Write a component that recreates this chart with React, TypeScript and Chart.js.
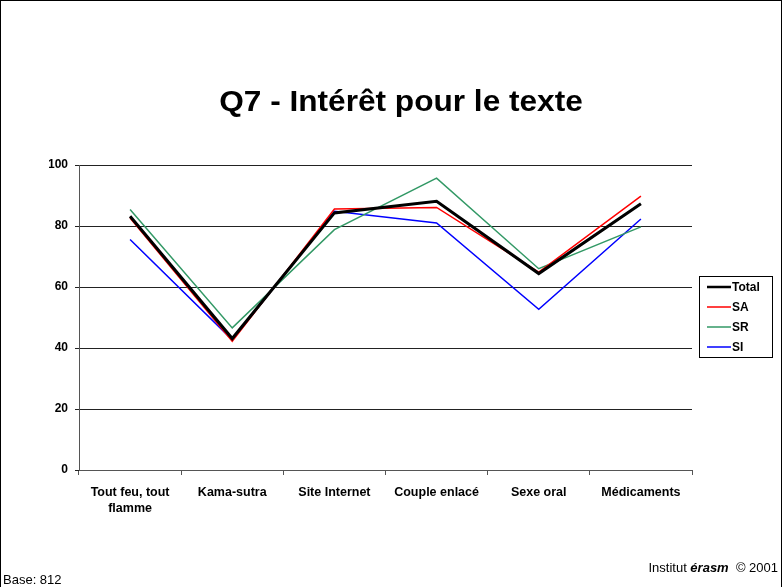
import React, { useEffect, useRef } from "react";
import { Chart, registerables } from "chart.js";

Chart.register(...registerables);

const categories: (string | string[])[] = [
  ["Tout feu, tout", "flamme"],
  "Kama-sutra",
  "Site Internet",
  "Couple enlacé",
  "Sexe oral",
  "Médicaments",
];
const totalValues = [83.2, 43.1, 84.3, 88.1, 64.4, 87.3];
const saValues = [82.6, 42.2, 85.6, 86.1, 64.9, 89.8];
const srValues = [85.4, 46.6, 78.8, 95.7, 66.0, 79.7];
const siValues = [75.6, 42.7, 84.8, 81.0, 52.7, 82.3];
const seriesNames = ["Total", "SA", "SR", "SI"];
const seriesColors = ["#000000", "#ff0000", "#339966", "#0000ff"];
const seriesWidths = [3, 1.5, 1.5, 1.5];
const yMin = 0;
const yMax = 100;
const yStep = 20;
const titleText = "Q7 - Intérêt pour le texte";
const baseText = "Base: 812";
const creditParts = ["Institut ", "érasm", "  © 2001"];

const FONT = "'Liberation Sans', Arial, Helvetica, sans-serif";

const extrasPlugin = {
  id: "extras",
  beforeDraw(chart: any) {
    const ctx = chart.ctx;
    ctx.save();
    ctx.fillStyle = "#ffffff";
    ctx.fillRect(0, 0, chart.width, chart.height);
    ctx.restore();
  },
  afterDraw(chart: any) {
    const ctx = chart.ctx;
    ctx.save();
    // outer border
    ctx.strokeStyle = "#000";
    ctx.lineWidth = 1;
    ctx.strokeRect(0.5, 0.5, chart.width - 1, chart.height + 10);

    // title
    ctx.save();
    ctx.fillStyle = "#000";
    ctx.font = `bold 29px ${FONT}`;
    ctx.textAlign = "center";
    ctx.textBaseline = "alphabetic";
    ctx.translate(401, 111);
    ctx.scale(1.09, 1);
    ctx.fillText(titleText, 0, 0);
    ctx.restore();

    // legend
    const lx = 699, ly = 276, lw = 73, lh = 81;
    ctx.strokeStyle = "#000";
    ctx.lineWidth = 1;
    ctx.strokeRect(lx + 0.5, ly + 0.5, lw, lh);
    ctx.font = `bold 12px ${FONT}`;
    ctx.textAlign = "left";
    ctx.textBaseline = "middle";
    const rowY = [287, 307, 327, 347];
    seriesNames.forEach((name, i) => {
      ctx.strokeStyle = seriesColors[i];
      ctx.lineWidth = seriesWidths[i] === 3 ? 2.5 : 1.5;
      ctx.beginPath();
      ctx.moveTo(707, rowY[i]);
      ctx.lineTo(731, rowY[i]);
      ctx.stroke();
      ctx.fillStyle = "#000";
      ctx.fillText(name, 732, rowY[i] + 0.5);
    });

    // footer
    ctx.textBaseline = "alphabetic";
    ctx.textAlign = "left";
    ctx.font = `13px ${FONT}`;
    ctx.fillText(baseText, 3, 584);
    const f1 = `13px ${FONT}`;
    const f2 = `italic bold 13px ${FONT}`;
    ctx.font = f1;
    const w0 = ctx.measureText(creditParts[0]).width;
    const w2 = ctx.measureText(creditParts[2]).width;
    ctx.font = f2;
    const w1 = ctx.measureText(creditParts[1]).width;
    let x = 778 - (w0 + w1 + w2);
    ctx.font = f1;
    ctx.fillText(creditParts[0], x, 572);
    x += w0;
    ctx.font = f2;
    ctx.fillText(creditParts[1], x, 572);
    x += w1;
    ctx.font = f1;
    ctx.fillText(creditParts[2], x, 572);
    ctx.restore();
  },
};

export default function App() {
  const ref = useRef<HTMLCanvasElement | null>(null);
  useEffect(() => {
    document.body.style.margin = "0";
    const canvas = ref.current;
    if (!canvas) return;
    const allValues = [totalValues, saValues, srValues, siValues];
    const chart = new Chart(canvas, {
      type: "line",
      data: {
        labels: categories,
        datasets: allValues.map((vals, i) => ({
          label: seriesNames[i],
          data: vals,
          borderColor: seriesColors[i],
          backgroundColor: seriesColors[i],
          borderWidth: seriesWidths[i],
          pointRadius: 0,
          tension: 0,
          fill: false,
        })),
      },
      options: {
        animation: false,
        responsive: false,
        devicePixelRatio: 1,
        layout: { padding: { left: 49, right: 90, top: 165, bottom: 67 } },
        plugins: {
          legend: { display: false },
          title: { display: false },
          tooltip: { enabled: false },
        },
        scales: {
          x: {
            type: "category",
            offset: true,
            grid: {
              offset: true,
              drawOnChartArea: false,
              drawTicks: true,
              tickLength: 5,
              color: "#555",
            },
            border: { display: true, color: "#555", width: 1 },
            ticks: {
              color: "#000",
              font: { family: FONT, size: 12.5, weight: "bold", lineHeight: 1.3 },
              padding: 9,
              maxRotation: 0,
              autoSkip: false,
            },
            afterFit: (scale: any) => {
              scale.height = 50;
            },
          },
          y: {
            min: yMin,
            max: yMax,
            grid: {
              color: "#222",
              lineWidth: 1,
              drawTicks: true,
              tickLength: 4,
            },
            border: { display: true, color: "#555", width: 1 },
            ticks: {
              stepSize: yStep,
              color: "#000",
              font: { family: FONT, size: 12, weight: "bold" },
              padding: 7,
            },
            afterFit: (scale: any) => {
              scale.width = 30;
            },
          },
        },
      },
      plugins: [extrasPlugin],
    } as any);
    return () => chart.destroy();
  }, []);
  return (
    <div style={{ width: 782, height: 587 }}>
      <canvas ref={ref} width={782} height={587} style={{ display: "block" }} />
    </div>
  );
}
